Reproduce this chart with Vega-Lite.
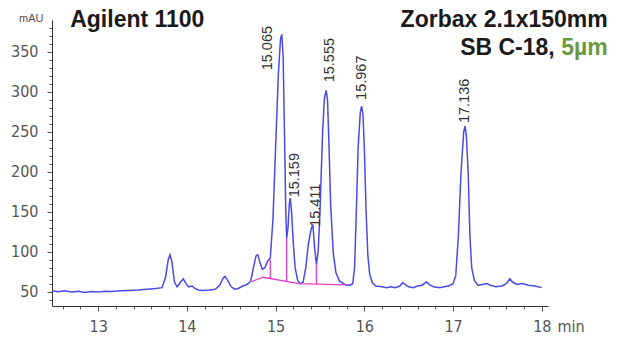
{
  "$schema": "https://vega.github.io/schema/vega-lite/v6.json",
  "autosize": {"type": "none"},
  "padding": {"left": 52, "top": 20, "right": 69, "bottom": 37},
  "width": 496,
  "height": 286,
  "background": "white",
  "config": {"view": {"stroke": null}},
  "datasets": {
    "trace": [
      {"t": 12.48, "v": 51}, {"t": 12.55, "v": 50}, {"t": 12.62, "v": 51}, {"t": 12.7, "v": 49.5},
      {"t": 12.78, "v": 50.5}, {"t": 12.85, "v": 49}, {"t": 12.92, "v": 50}, {"t": 13.0, "v": 49.5},
      {"t": 13.08, "v": 50.5}, {"t": 13.15, "v": 50}, {"t": 13.25, "v": 51}, {"t": 13.35, "v": 51.5},
      {"t": 13.45, "v": 52}, {"t": 13.55, "v": 53}, {"t": 13.65, "v": 54}, {"t": 13.72, "v": 55},
      {"t": 13.76, "v": 68}, {"t": 13.79, "v": 90}, {"t": 13.81, "v": 96}, {"t": 13.83, "v": 88},
      {"t": 13.86, "v": 62}, {"t": 13.89, "v": 56}, {"t": 13.93, "v": 62}, {"t": 13.96, "v": 66},
      {"t": 13.99, "v": 60}, {"t": 14.02, "v": 56}, {"t": 14.06, "v": 57}, {"t": 14.09, "v": 54},
      {"t": 14.13, "v": 52}, {"t": 14.18, "v": 51.5}, {"t": 14.25, "v": 52}, {"t": 14.32, "v": 53},
      {"t": 14.37, "v": 58}, {"t": 14.41, "v": 67}, {"t": 14.43, "v": 69}, {"t": 14.46, "v": 64},
      {"t": 14.5, "v": 56}, {"t": 14.54, "v": 53}, {"t": 14.58, "v": 54}, {"t": 14.63, "v": 57},
      {"t": 14.68, "v": 59}, {"t": 14.72, "v": 63}, {"t": 14.75, "v": 80}, {"t": 14.78, "v": 95},
      {"t": 14.8, "v": 96}, {"t": 14.82, "v": 88}, {"t": 14.85, "v": 78}, {"t": 14.88, "v": 80},
      {"t": 14.91, "v": 88}, {"t": 14.94, "v": 92}, {"t": 14.97, "v": 140}, {"t": 15.0, "v": 230},
      {"t": 15.03, "v": 320}, {"t": 15.055, "v": 366}, {"t": 15.07, "v": 372}, {"t": 15.085, "v": 345},
      {"t": 15.1, "v": 250}, {"t": 15.115, "v": 150}, {"t": 15.125, "v": 117}, {"t": 15.14, "v": 130},
      {"t": 15.155, "v": 160}, {"t": 15.165, "v": 167}, {"t": 15.18, "v": 150}, {"t": 15.2, "v": 110},
      {"t": 15.22, "v": 80}, {"t": 15.25, "v": 63}, {"t": 15.28, "v": 60}, {"t": 15.31, "v": 62},
      {"t": 15.34, "v": 80}, {"t": 15.37, "v": 110}, {"t": 15.4, "v": 128}, {"t": 15.42, "v": 134},
      {"t": 15.44, "v": 105}, {"t": 15.46, "v": 84}, {"t": 15.48, "v": 100}, {"t": 15.5, "v": 150},
      {"t": 15.53, "v": 250}, {"t": 15.55, "v": 292}, {"t": 15.57, "v": 302}, {"t": 15.585, "v": 290},
      {"t": 15.6, "v": 240}, {"t": 15.62, "v": 160}, {"t": 15.65, "v": 98}, {"t": 15.68, "v": 74},
      {"t": 15.72, "v": 63}, {"t": 15.78, "v": 59}, {"t": 15.84, "v": 58}, {"t": 15.87, "v": 60},
      {"t": 15.89, "v": 80}, {"t": 15.91, "v": 150}, {"t": 15.93, "v": 230}, {"t": 15.955, "v": 275},
      {"t": 15.97, "v": 282}, {"t": 15.985, "v": 272}, {"t": 16.0, "v": 230}, {"t": 16.02, "v": 150},
      {"t": 16.04, "v": 95}, {"t": 16.06, "v": 72}, {"t": 16.09, "v": 61}, {"t": 16.13, "v": 57},
      {"t": 16.2, "v": 56}, {"t": 16.25, "v": 55}, {"t": 16.3, "v": 56}, {"t": 16.35, "v": 55},
      {"t": 16.4, "v": 57}, {"t": 16.43, "v": 61}, {"t": 16.46, "v": 59}, {"t": 16.5, "v": 56},
      {"t": 16.55, "v": 55}, {"t": 16.6, "v": 57}, {"t": 16.65, "v": 58}, {"t": 16.7, "v": 62},
      {"t": 16.73, "v": 59}, {"t": 16.78, "v": 56}, {"t": 16.85, "v": 55}, {"t": 16.9, "v": 56},
      {"t": 16.95, "v": 57}, {"t": 17.0, "v": 60}, {"t": 17.03, "v": 70}, {"t": 17.06, "v": 120},
      {"t": 17.09, "v": 200}, {"t": 17.12, "v": 250}, {"t": 17.135, "v": 257}, {"t": 17.15, "v": 245},
      {"t": 17.17, "v": 200}, {"t": 17.19, "v": 120}, {"t": 17.21, "v": 80}, {"t": 17.24, "v": 64},
      {"t": 17.28, "v": 58}, {"t": 17.33, "v": 59}, {"t": 17.38, "v": 60}, {"t": 17.42, "v": 58},
      {"t": 17.48, "v": 56}, {"t": 17.55, "v": 57}, {"t": 17.6, "v": 60}, {"t": 17.64, "v": 66},
      {"t": 17.67, "v": 62}, {"t": 17.72, "v": 59}, {"t": 17.78, "v": 60}, {"t": 17.85, "v": 58},
      {"t": 17.92, "v": 57}, {"t": 18.0, "v": 55}
    ],
    "integration": [
      {"seg": "base", "i": 0, "t": 14.73, "v": 62.6},
      {"seg": "base", "i": 1, "t": 14.86, "v": 68},
      {"seg": "base", "i": 2, "t": 15.26, "v": 60},
      {"seg": "base", "i": 3, "t": 15.8, "v": 58.4},
      {"seg": "d1", "i": 0, "t": 14.94, "v": 66.4},
      {"seg": "d1", "i": 1, "t": 14.94, "v": 90},
      {"seg": "d2", "i": 0, "t": 15.125, "v": 62.7},
      {"seg": "d2", "i": 1, "t": 15.125, "v": 117},
      {"seg": "d3", "i": 0, "t": 15.46, "v": 59.5},
      {"seg": "d3", "i": 1, "t": 15.46, "v": 84}
    ],
    "peaks": [
      {"rt": "15.065", "lx": 14.915, "ly": 327},
      {"rt": "15.159", "lx": 15.218, "ly": 168},
      {"rt": "15.411", "lx": 15.455, "ly": 131},
      {"rt": "15.555", "lx": 15.613, "ly": 312},
      {"rt": "15.967", "lx": 15.973, "ly": 290},
      {"rt": "17.136", "lx": 17.133, "ly": 261}
    ],
    "leftNotes": [
      {"txt": "Agilent 1100", "t": 12.685, "v": 381}
    ],
    "rightNotes": [
      {"txt": "Zorbax 2.1x150mm", "t": 18.743, "v": 381, "c": "black"},
      {"txt": "SB C-18,", "t": 18.146, "v": 346, "c": "black"},
      {"txt": "5µm", "t": 18.743, "v": 346, "c": "green"}
    ]
  },
  "layer": [
    {
      "data": {"name": "trace"},
      "mark": {"type": "line", "color": "#4a4ae6", "strokeWidth": 1.5, "clip": true},
      "encoding": {
        "x": {
          "field": "t", "type": "quantitative",
          "scale": {"domain": [12.48, 18.07], "nice": false, "zero": false},
          "axis": {
            "values": [12.6, 12.8, 13, 13.2, 13.4, 13.6, 13.8, 14, 14.2, 14.4, 14.6, 14.8, 15, 15.2, 15.4, 15.6, 15.8, 16, 16.2, 16.4, 16.6, 16.8, 17, 17.2, 17.4, 17.6, 17.8, 18],
            "tickCount": 200,
            "labelExpr": "abs(datum.value - round(datum.value)) < 0.01 ? format(datum.value, 'd') : ''",
            "labelOverlap": false,
            "labelBound": false,
            "labelFlush": false,
            "grid": false,
            "domainColor": "#333",
            "domainWidth": 1,
            "tickColor": "#555",
            "tickSize": {"condition": {"test": "abs(datum.value - round(datum.value)) < 0.01", "value": 5}, "value": 3},
            "labelFont": "Liberation Sans Narrow, DejaVu Sans Condensed, Liberation Sans",
            "labelFontSize": 16,
            "labelColor": "#555",
            "labelPadding": 7,
            "labelDx": 3,
            "title": "min",
            "titleFont": "Liberation Sans Narrow, DejaVu Sans Condensed, Liberation Sans",
            "titleFontSize": 16,
            "titleFontWeight": "normal",
            "titleColor": "#555",
            "titleAngle": 0,
            "titleAlign": "left",
            "titleBaseline": "middle",
            "titleX": 505,
            "titleY": 20
          }
        },
        "y": {
          "field": "v", "type": "quantitative",
          "scale": {"domain": [32, 390], "nice": false, "zero": false},
          "axis": {
            "values": [40, 50, 60, 70, 80, 90, 100, 110, 120, 130, 140, 150, 160, 170, 180, 190, 200, 210, 220, 230, 240, 250, 260, 270, 280, 290, 300, 310, 320, 330, 340, 350, 360, 370, 380],
            "tickCount": 200,
            "labelExpr": "datum.value % 50 === 0 ? format(datum.value, 'd') : ''",
            "labelOverlap": false,
            "labelBound": false,
            "labelFlush": false,
            "grid": false,
            "domainColor": "#333",
            "domainWidth": 1,
            "tickColor": "#555",
            "tickSize": {"condition": {"test": "datum.value % 50 === 0", "value": 5}, "value": 3},
            "labelFont": "Liberation Sans Narrow, DejaVu Sans Condensed, Liberation Sans",
            "labelFontSize": 16,
            "labelColor": "#555",
            "labelPadding": 9,
            "title": "mAU",
            "titleFont": "Liberation Sans",
            "titleFontSize": 11,
            "titleFontWeight": "normal",
            "titleColor": "#555",
            "titleAngle": 0,
            "titleAlign": "right",
            "titleBaseline": "alphabetic",
            "titleX": -9,
            "titleY": 1
          }
        }
      }
    },
    {
      "data": {"name": "integration"},
      "mark": {"type": "line", "color": "#e23fc6", "strokeWidth": 1.3},
      "encoding": {
        "x": {"field": "t", "type": "quantitative"},
        "y": {"field": "v", "type": "quantitative"},
        "detail": {"field": "seg"},
        "order": {"field": "i"}
      }
    },
    {
      "data": {"name": "peaks"},
      "mark": {"type": "text", "angle": 270, "align": "left", "baseline": "middle", "font": "Liberation Sans", "fontSize": 14.5, "color": "#333"},
      "encoding": {
        "x": {"field": "lx", "type": "quantitative"},
        "y": {"field": "ly", "type": "quantitative"},
        "text": {"field": "rt"}
      }
    },
    {
      "data": {"name": "leftNotes"},
      "mark": {"type": "text", "align": "left", "baseline": "alphabetic", "font": "Liberation Sans", "fontSize": 23, "fontWeight": "bold", "color": "#1a1a1a"},
      "encoding": {
        "x": {"field": "t", "type": "quantitative"},
        "y": {"field": "v", "type": "quantitative"},
        "text": {"field": "txt"}
      }
    },
    {
      "data": {"name": "rightNotes"},
      "mark": {"type": "text", "align": "right", "baseline": "alphabetic", "font": "Liberation Sans", "fontSize": 23, "fontWeight": "bold"},
      "encoding": {
        "x": {"field": "t", "type": "quantitative"},
        "y": {"field": "v", "type": "quantitative"},
        "text": {"field": "txt"},
        "color": {"field": "c", "type": "nominal", "scale": {"domain": ["black", "green"], "range": ["#1a1a1a", "#6b9a3e"]}, "legend": null}
      }
    }
  ]
}
